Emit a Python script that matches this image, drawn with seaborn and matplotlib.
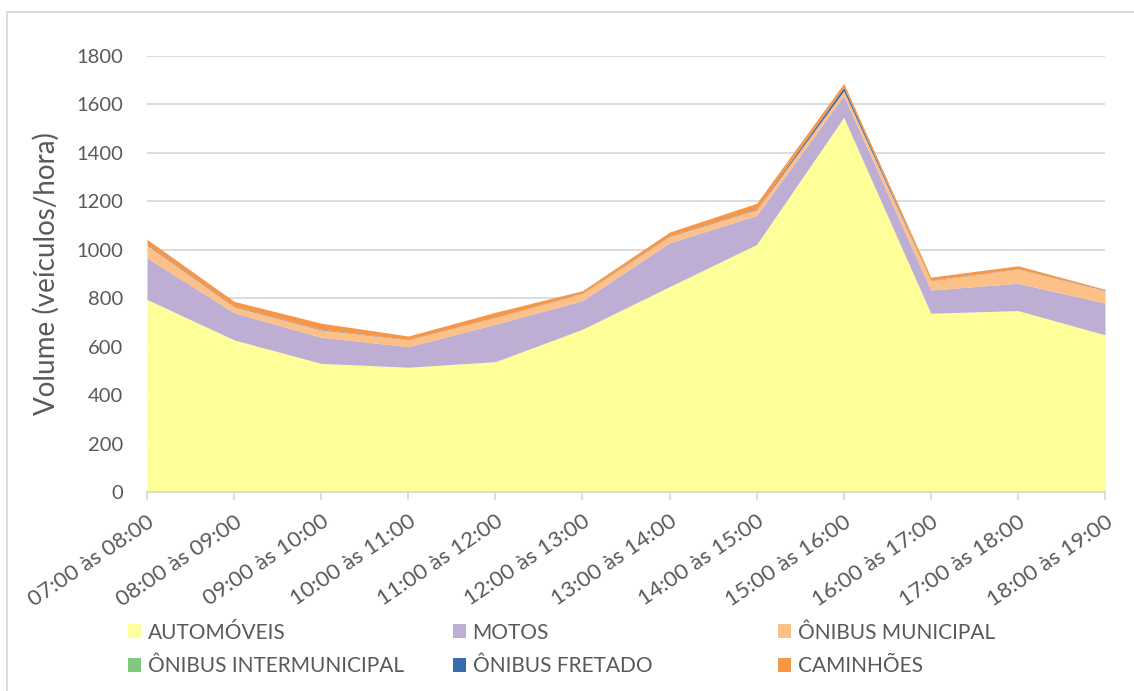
import seaborn as sns
from matplotlib import pyplot as plt
from matplotlib.patches import Rectangle

periodos = ["07:00 às 08:00", "08:00 às 09:00", "09:00 às 10:00", "10:00 às 11:00",
            "11:00 às 12:00", "12:00 às 13:00", "13:00 às 14:00", "14:00 às 15:00",
            "15:00 às 16:00", "16:00 às 17:00", "17:00 às 18:00", "18:00 às 19:00"]
automoveis = [795, 628, 531, 515, 538, 672, 848, 1022, 1547, 738, 749, 649]
motos = [172, 112, 108, 85, 155, 118, 181, 120, 89, 96, 113, 131]
onibus_municipal = [53, 25, 31, 29, 28, 30, 27, 24, 20, 39, 59, 53]
onibus_intermunicipal = [0, 0, 0, 0, 0, 0, 0, 0, 0, 0, 0, 0]
onibus_fretado = [3, 2, 2, 1, 1, 1, 2, 2, 15, 1, 1, 2]
caminhoes = [20, 20, 25, 14, 20, 10, 15, 24, 16, 13, 12, 2]

series = ["AUTOMÓVEIS", "MOTOS", "ÔNIBUS MUNICIPAL",
          "ÔNIBUS INTERMUNICIPAL", "ÔNIBUS FRETADO", "CAMINHÕES"]
cores = ["#ffff99", "#beaed4", "#fdc086", "#7fc97f", "#386cb0", "#f79646"]

sns.set_theme(style="white")
plt.rcParams['font.family'] = ['Lato', 'DejaVu Sans']
texto = "#595959"

fig = plt.figure(figsize=(11.34, 6.91), dpi=100)
ax = fig.add_axes([147 / 1134, 1 - 492 / 691, 958 / 1134, 436 / 691])

x = list(range(len(periodos)))
ax.stackplot(x, automoveis, motos, onibus_municipal, onibus_intermunicipal,
             onibus_fretado, caminhoes, colors=sns.color_palette(cores),
             labels=series, linewidth=0)

ax.set_xlim(0, len(periodos) - 1)
ax.set_ylim(0, 1800)
ax.set_yticks(range(0, 1801, 200))
ax.yaxis.grid(True, color="#d9d9d9", linewidth=1.3)
ax.set_axisbelow(True)
for s in ["top", "right", "left"]:
    ax.spines[s].set_visible(False)
ax.spines["bottom"].set_color("#d9d9d9")
ax.spines["bottom"].set_linewidth(1.3)

ax.set_xticks(x)
ax.set_xticklabels(periodos, rotation=34, ha="right", rotation_mode="anchor",
                   fontsize=16, color=texto)
ax.tick_params(axis="x", bottom=True, length=6, width=1.3, color="#d9d9d9", pad=8)
ax.tick_params(axis="y", left=False, labelsize=14.5, labelcolor=texto, pad=11)
ax.set_ylabel("Volume (veículos/hora)", fontsize=20, color=texto, labelpad=12)

# legenda em 3 colunas igualmente espaçadas, como no Excel
handles, labels = ax.get_legend_handles_labels()
for col, x0 in enumerate([109, 434, 759]):
    leg = fig.legend([handles[col], handles[col + 3]], [labels[col], labels[col + 3]],
                     loc="upper left", bbox_to_anchor=(x0 / 1134, 1 - 604 / 691),
                     ncol=1, frameon=False, fontsize=15, labelcolor=texto,
                     handlelength=0.65, handleheight=0.65, handletextpad=0.3,
                     labelspacing=0.65)

fig.patches.append(Rectangle((7 / 1134, -0.1), 1.2, 1 - 12 / 691 + 0.1,
                             transform=fig.transFigure, fill=False,
                             edgecolor="#d9d9d9", linewidth=1.3))

plt.savefig("out.png", dpi=100)
